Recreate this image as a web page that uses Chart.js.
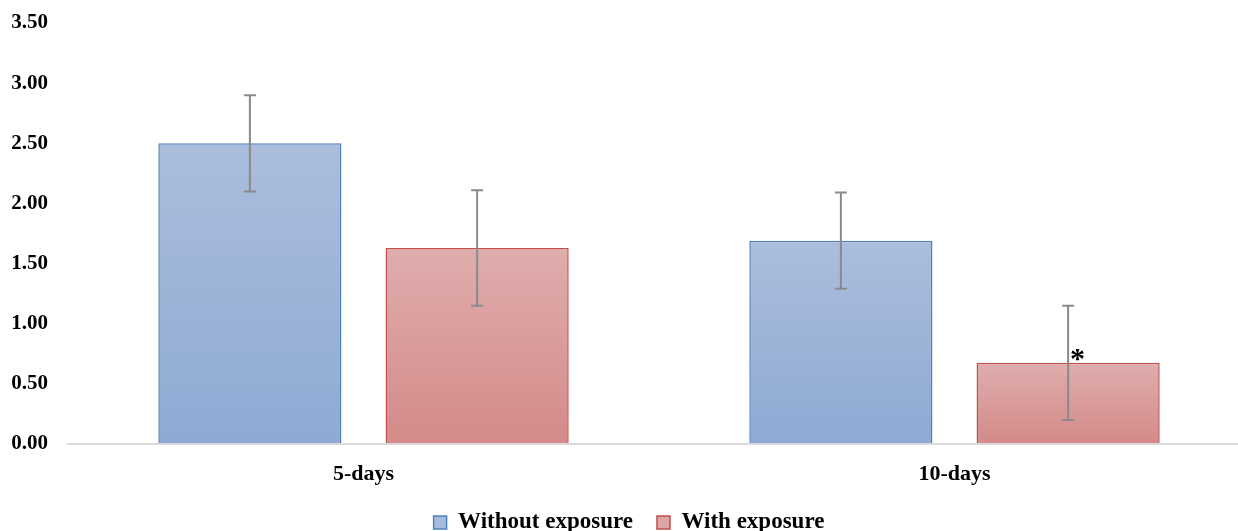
<!DOCTYPE html>
<html>
<head>
<meta charset="utf-8">
<script src="https://cdn.jsdelivr.net/npm/chart.js@4.4.1/dist/chart.umd.min.js"></script>
<style>
    html, body { margin: 0; padding: 0; background: #fff; overflow: hidden; }
    #wrap { position: relative; width: 1250px; height: 531px; }
</style>
</head>
<body>
<div id="wrap"><canvas id="chart"></canvas></div>
<script>
const categories = ['5-days', '10-days'];
const withoutExposure = [2.50, 1.69];
const withExposure = [1.63, 0.675];
const withoutExposureErr = [0.40, 0.40];
const withExposureErr = [0.48, 0.475];
const withoutExposureMarks = ['', ''];
const withExposureMarks = ['', '*'];
const yTickValues = [0, 0.5, 1, 1.5, 2, 2.5, 3, 3.5];

const fontFamily = "'Liberation Serif', 'Times New Roman', serif";

function barGradient(top, bottom) {
    return function (ctx) {
        const chart = ctx.chart;
        if (!chart.chartArea || ctx.type !== 'data') {
            return bottom;
        }
        const y = chart.scales.y;
        const yTop = y.getPixelForValue(ctx.raw);
        const yBase = y.getPixelForValue(0);
        const g = chart.ctx.createLinearGradient(0, yTop, 0, yBase);
        g.addColorStop(0, top);
        g.addColorStop(1, bottom);
        return g;
    };
}

// error bars + significance marks, drawn from the dataset values through the y scale
const errorBars = {
    id: 'errorBars',
    afterDatasetsDraw(chart) {
        const { ctx } = chart;
        const y = chart.scales.y;
        ctx.save();
        chart.data.datasets.forEach((ds, i) => {
            const meta = chart.getDatasetMeta(i);
            meta.data.forEach((bar, j) => {
                const v = ds.data[j];
                const e = ds.errors[j];
                const yHi = y.getPixelForValue(v + e);
                const yLo = y.getPixelForValue(v - e);
                ctx.strokeStyle = '#8a8a8a';
                ctx.lineWidth = 2;
                ctx.beginPath();
                ctx.moveTo(bar.x, yHi);
                ctx.lineTo(bar.x, yLo);
                ctx.moveTo(bar.x - 6, yHi);
                ctx.lineTo(bar.x + 6, yHi);
                ctx.moveTo(bar.x - 6, yLo);
                ctx.lineTo(bar.x + 6, yLo);
                ctx.stroke();

                const mark = ds.marks && ds.marks[j];
                if (mark) {
                    ctx.fillStyle = '#000';
                    ctx.font = 'bold 30px ' + fontFamily;
                    ctx.textAlign = 'left';
                    ctx.textBaseline = 'alphabetic';
                    ctx.fillText(mark, bar.x + 2, y.getPixelForValue(v) + 5);
                }
            });
        });
        ctx.restore();
    }
};

new Chart(document.getElementById('chart'), {
    type: 'bar',
    data: {
        labels: categories,
        datasets: [
            {
                label: 'Without exposure',
                data: withoutExposure,
                errors: withoutExposureErr,
                marks: withoutExposureMarks,
                backgroundColor: barGradient('#abbddc', '#8eaad4'),
                borderColor: '#4f81bd',
                borderWidth: 1.5,
                legendFill: '#a6badb'
            },
            {
                label: 'With exposure',
                data: withExposure,
                errors: withExposureErr,
                marks: withExposureMarks,
                backgroundColor: barGradient('#dfadad', '#d48a89'),
                borderColor: '#c0504d',
                borderWidth: 1.5,
                legendFill: '#dca6a6'
            }
        ]
    },
    options: {
        responsive: true,
        maintainAspectRatio: false,
        animation: false,
        categoryPercentage: 0.769,
        barPercentage: 0.806,
        layout: { padding: { top: 23, left: 8, right: 0, bottom: -13 } },
        scales: {
            x: {
                afterFit(scale) {
                    scale.height = 43;
                },
                grid: { display: false, drawTicks: false },
                border: { display: true, color: '#d9d9d9', width: 2, z: 1 },
                ticks: {
                    color: '#000',
                    padding: 17,
                    font: { family: fontFamily, size: 22, weight: 'bold' }
                }
            },
            y: {
                min: 0,
                max: 3.5,
                afterBuildTicks(scale) {
                    scale.ticks = yTickValues.map(v => ({ value: v }));
                },
                afterFit(scale) {
                    scale.width = 60;
                    scale.paddingTop = 0;
                    scale.paddingBottom = 0;
                },
                grid: { display: false, drawTicks: false },
                border: { display: false },
                ticks: {
                    color: '#000',
                    padding: 20,
                    font: { family: fontFamily, size: 21, weight: 'bold' },
                    callback: v => Number(v).toFixed(2)
                }
            }
        },
        plugins: {
            legend: {
                position: 'bottom',
                labels: {
                    color: '#000',
                    boxWidth: 13,
                    boxHeight: 13,
                    padding: 24,
                    font: { family: fontFamily, size: 23, weight: 'bold' },
                    generateLabels(chart) {
                        return chart.data.datasets.map((ds, i) => ({
                            text: ds.label,
                            fillStyle: ds.legendFill,
                            strokeStyle: ds.borderColor,
                            lineWidth: 1.5,
                            fontColor: '#000',
                            hidden: false,
                            datasetIndex: i
                        }));
                    }
                }
            },
            tooltip: { enabled: false }
        }
    },
    plugins: [errorBars]
});
</script>
</body>
</html>
